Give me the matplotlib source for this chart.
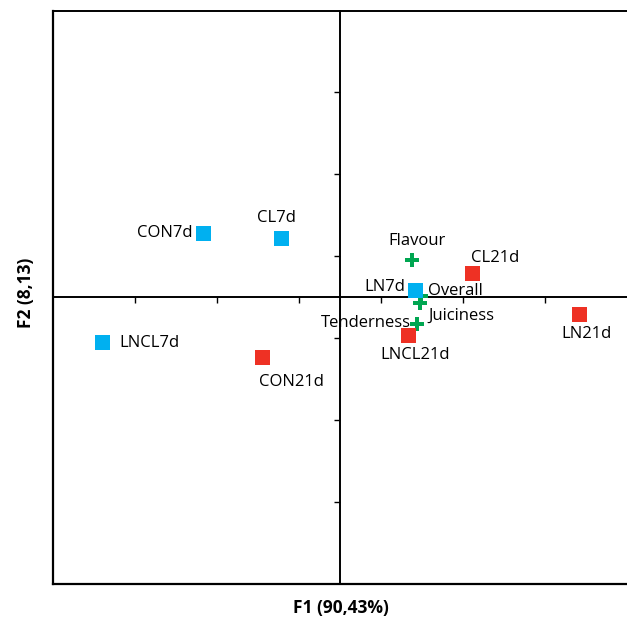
import matplotlib.pyplot as plt
import numpy as np

# observations (F1, F2)
obs_names = ['CON7d', 'CL7d', 'LNCL7d', 'LN7d', 'CON21d', 'CL21d', 'LNCL21d', 'LN21d']
obs_f1 = np.array([-1.67, -0.72, -2.90, 0.92, -0.95, 1.61, 0.83, 2.91])
obs_f2 = np.array([0.78, 0.72, -0.545, 0.086, -0.73, 0.30, -0.46, -0.21])
obs_day = ['7d', '7d', '7d', '7d', '21d', '21d', '21d', '21d']

# sensory attributes
var_names = ['Flavour', 'Overall', 'Juiciness', 'Tenderness']
var_f1 = np.array([0.88, 0.985, 0.97, 0.94])
var_f2 = np.array([0.455, 0.01, -0.075, -0.33])

colors = {'7d': '#00B0F0', '21d': '#EE3124', 'var': '#00A651'}

# label offsets in pixels and alignment
obs_offsets = {
    'CON7d': (-10.5, 0, 'right'),
    'CL7d': (-4.5, 20, 'center'),
    'LNCL7d': (17.5, -1.5, 'left'),
    'LN7d': (-10.5, 3, 'right'),
    'CON21d': (-3.5, -25, 'left'),
    'CL21d': (-1, 15, 'left'),
    'LNCL21d': (7.5, -20.5, 'center'),
    'LN21d': (7.5, -20, 'center'),
}
var_offsets = {
    'Flavour': (4.7, 19.3, 'center'),
    'Overall': (7, 5.3, 'left'),
    'Juiciness': (9, -12, 'left'),
    'Tenderness': (-6.6, 1.7, 'right'),
}

plt.rcParams['font.family'] = ['Open Sans', 'DejaVu Sans']

fig = plt.figure(figsize=(6.27, 6.19), dpi=100)
W, H = 627, 619
ax = fig.add_axes([53 / W, (H - 584) / H, (W - 53) / W, (584 - 10.5) / H])
ax.set_xlim(-3.5, 3.5)
ax.set_ylim(-3.5, 3.5)

# central axes with ticks
ax.spines['left'].set_position(('data', 0))
ax.spines['bottom'].set_position(('data', 0))
ax.spines['right'].set_visible(False)
for s in ['left', 'bottom', 'top']:
    ax.spines[s].set_linewidth(1.4)
    ax.spines[s].set_color('black')
ax.set_xticks([-2.5, -1.5, -0.5, 0.5, 1.5, 2.5])
ax.set_yticks([-2.5, -1.5, -0.5, 0.5, 1.5, 2.5])
ax.set_xticklabels([])
ax.set_yticklabels([])
ax.tick_params(direction='out', length=4.3, width=1, colors='black')

# outer frame (left and bottom)
ax.plot([0, 0], [0, 1], transform=ax.transAxes, color='black', lw=1.6, clip_on=False)
ax.plot([0, 1], [0, 0], transform=ax.transAxes, color='black', lw=1.6, clip_on=False)

ax.plot(var_f1, var_f2, 'P', color=colors['var'], markersize=9.5, markeredgewidth=0, zorder=3)
for day in ['7d', '21d']:
    m = np.array([d == day for d in obs_day])
    ax.plot(obs_f1[m], obs_f2[m], 's', color=colors[day], markersize=10.8,
            markeredgewidth=0, zorder=4)

for name, x, y in zip(obs_names, obs_f1, obs_f2):
    dx, dy, ha = obs_offsets[name]
    ax.annotate(name, (x, y), xytext=(dx, dy), textcoords='offset pixels',
                ha=ha, va='center', fontsize=12, zorder=5)
for name, x, y in zip(var_names, var_f1, var_f2):
    dx, dy, ha = var_offsets[name]
    ax.annotate(name, (x, y), xytext=(dx, dy), textcoords='offset pixels',
                ha=ha, va='center', fontsize=12, zorder=5)

fig.text(340.5 / W, 1 - 608 / H, 'F1 (90,43%)', ha='center', va='center',
         fontsize=12.5, fontweight='bold')
fig.text(25.7 / W, 1 - 293 / H, 'F2 (8,13)', ha='center', va='center',
         rotation=90, fontsize=12.5, fontweight='bold')

fig.savefig('out.png', dpi=100)
